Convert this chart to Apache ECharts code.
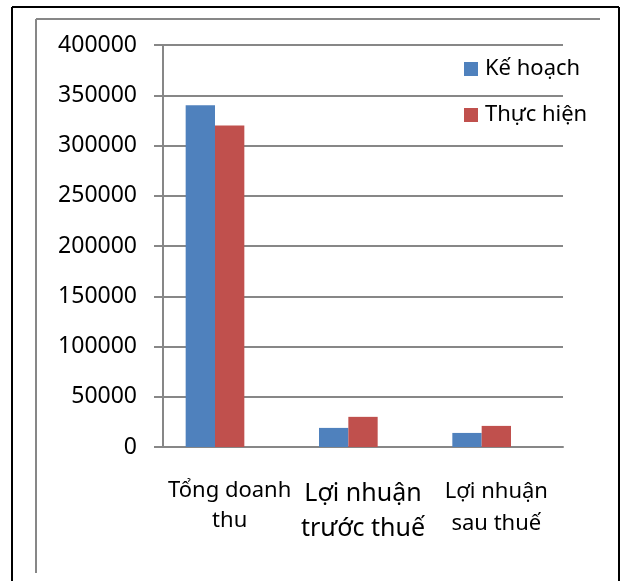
<!DOCTYPE html>
<html>
<head>
<meta charset="utf-8">
<script src="https://cdn.jsdelivr.net/npm/echarts@6/dist/echarts.min.js"></script>
<style>
  html, body { margin: 0; padding: 0; background: #fff; }
  #main { width: 625px; height: 581px; }
</style>
</head>
<body>
<div id="main"></div>
<script>
// danh mục và số liệu
var categories = ['Tổng doanh\nthu', 'Lợi nhuận\ntrước thuế', 'Lợi nhuận\nsau thuế'];
var keHoach = [340000, 19000, 14000];
var thucHien = [320000, 30000, 21000];
var emptySeries = [null, null, null];   // chuỗi trống như file Excel gốc
var yMax = 400000;
var yStep = 50000;

var font = 'Noto Sans';
var gridColor = '#878787';

var myChart = echarts.init(document.getElementById('main'));

var option = {
    animation: false,
    textStyle: { fontFamily: font },
    graphic: [
        // khung ngoài màu đen
        { type: 'line', shape: { x1: 12, y1: 7, x2: 12, y2: 581 }, style: { stroke: '#000', lineWidth: 2 } },
        { type: 'line', shape: { x1: 12, y1: 7, x2: 619, y2: 7 }, style: { stroke: '#000', lineWidth: 2 } },
        { type: 'line', shape: { x1: 619, y1: 7, x2: 619, y2: 581 }, style: { stroke: '#000', lineWidth: 2 } },
        // khung vùng biểu đồ màu xám
        { type: 'line', shape: { x1: 36, y1: 19, x2: 600, y2: 19 }, style: { stroke: gridColor, lineWidth: 2 } },
        { type: 'line', shape: { x1: 36, y1: 19, x2: 36, y2: 573 }, style: { stroke: gridColor, lineWidth: 2 } }
    ],
    grid: {
        left: 163,
        right: 62,
        top: 45,
        bottom: 134
    },
    legend: {
        orient: 'vertical',
        left: 464,
        top: 58,
        padding: 0,
        itemWidth: 14,
        itemHeight: 14,
        itemGap: 24,
        icon: 'rect',
        data: ['Kế hoạch', 'Thực hiện'],
        textStyle: { fontFamily: font, fontSize: 22, lineHeight: 20, color: '#000', padding: [0, 0, 0, 2] }
    },
    xAxis: {
        type: 'category',
        data: [
            { value: categories[0], textStyle: { fontSize: 22, lineHeight: 30 } },
            { value: categories[1], textStyle: { fontSize: 25, lineHeight: 35 } },
            { value: categories[2], textStyle: { fontSize: 22, lineHeight: 32 } }
        ],
        axisLine: { lineStyle: { color: gridColor, width: 2 } },
        axisTick: { length: 8, lineStyle: { color: gridColor, width: 2 } },
        axisLabel: { color: '#000', fontFamily: font, margin: 29, interval: 0 }
    },
    yAxis: {
        type: 'value',
        min: 0,
        max: yMax,
        interval: yStep,
        axisLine: { show: true, lineStyle: { color: gridColor, width: 2 } },
        axisTick: { show: true, length: 9, lineStyle: { color: gridColor, width: 2 } },
        splitLine: { lineStyle: { color: gridColor, width: 2 } },
        axisLabel: {
            color: '#000', fontFamily: font, fontSize: 23, margin: 26,
            formatter: function (v) { return String(v); }
        }
    },
    series: [
        {
            name: 'Kế hoạch',
            type: 'bar',
            barGap: '0%',
            barCategoryGap: '34%',
            itemStyle: { color: '#4F81BD' },
            data: keHoach
        },
        {
            name: 'Thực hiện',
            type: 'bar',
            itemStyle: { color: '#C0504D' },
            data: thucHien
        },
        {
            name: '',
            type: 'bar',
            data: emptySeries
        }
    ]
};

myChart.setOption(option);
</script>
</body>
</html>
